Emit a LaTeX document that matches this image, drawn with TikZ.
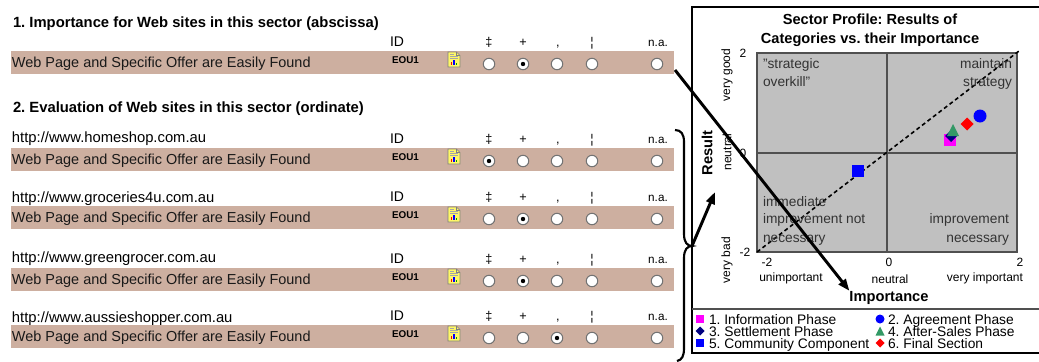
\documentclass[tikz,border=0pt]{standalone}
\usepackage{fontspec}
\setmainfont{Liberation Sans}
\usetikzlibrary{arrows.meta,shapes.geometric}
\definecolor{bandcol}{HTML}{CDAFA0}
\definecolor{plotgray}{HTML}{C0C0C0}
\definecolor{gridcol}{HTML}{505050}
\definecolor{navy}{HTML}{000080}
\definecolor{seagreen}{HTML}{339966}
\definecolor{pinkmag}{HTML}{FF00FF}
\definecolor{pureblue}{HTML}{0000FF}
\definecolor{purered}{HTML}{FF0000}
\newcommand\myfs[1]{\fontsize{#1}{#1}\selectfont}
\frenchspacing
\tikzset{
  pics/mksq/.style={code={\fill (-#1,-#1) rectangle (#1,#1);}},
  pics/mkci/.style={code={\fill (0,0) circle (#1);}},
  pics/mkdi/.style={code={\fill (0,-#1) -- (#1,0) -- (0,#1) -- (-#1,0) -- cycle;}},
  pics/mktr/.style={code={\fill ({-#1},{#1}) -- ({#1},{#1}) -- (0,{-#1}) -- cycle;}},
  pics/docicon/.style={code={
    \filldraw[fill=yellow!60!white, draw=black!50, line width=0.45pt] (-6,-7.5) -- (2.5,-7.5) -- (6,-4) -- (6,7.5) -- (-6,7.5) -- cycle;
    \draw[black!50, line width=0.45pt] (2.5,-7.5) -- (2.5,-4) -- (6,-4);
    \draw[black!35, line width=0.35pt] (-4,-5) -- (0,-5) (-4,-3) -- (4,-3) (-4,-1) -- (4,-1);
    \fill[red] (-3.5,5.5) rectangle (-2,2);
    \fill[blue] (-1,5.5) rectangle (0.5,0.5);
    \fill[green!60!black] (1.5,5.5) rectangle (3,3);
  }}
}
\begin{document}
\begin{tikzpicture}[x=0.75pt,y=-0.75pt,
  txt/.style={inner sep=0pt, outer sep=0pt},
  heading/.style={txt, anchor=base west, font=\bfseries\myfs{11.1}},
  url/.style={txt, anchor=base west, font=\myfs{11.1}},
  band/.style={fill=bandcol, draw=none, inner sep=0pt, outer sep=0pt, anchor=north west, minimum width=497pt, minimum height=17.6pt},
  rowtxt/.style={txt, anchor=base west, font=\myfs{10.85}, text=black!90},
  idtxt/.style={txt, anchor=base, font=\myfs{10.5}},
  symtxt/.style={txt, anchor=base, font=\myfs{9.5}},
  natxt/.style={txt, anchor=base, font=\myfs{8.8}},
  codetxt/.style={txt, anchor=base west, font=\bfseries\myfs{7.4}},
  radio/.style={circle, fill=white, draw=black!55, line width=0.8pt, minimum size=8.6pt, inner sep=0pt},
  ttl/.style={txt, anchor=base, font=\bfseries\myfs{10.95}},
  qtxt/.style={txt, anchor=base west, font=\myfs{10.3}, text=black!80},
  qtxtr/.style={txt, anchor=base east, font=\myfs{10.3}, text=black!80},
  tick/.style={txt, anchor=base, font=\myfs{9}},
  axlab/.style={txt, anchor=base, font=\myfs{9}},
  axlabr/.style={txt, rotate=90, font=\myfs{9}},
  axtitle/.style={txt, font=\bfseries\myfs{11}},
  legtxt/.style={txt, anchor=base west, font=\myfs{10.35}},
  bigarrow/.style={line width=2.2pt, -{Triangle[length=9pt,width=6.5pt]}},
]
\path[use as bounding box] (0,0) rectangle (1039,361);

% ---------- left: form ----------
\node[heading] (h1) at (13,27) {1. Importance for Web sites in this sector (abscissa)};
\node[heading] (h2) at (13,112) {2. Evaluation of Web sites in this sector (ordinate)};

\node[url] (u1) at (12,142) {http://www.homeshop.com.au};
\node[url] (u2) at (12,202) {http://www.groceries4u.com.au};
\node[url] (u3) at (12,262) {http://www.greengrocer.com.au};
\node[url] (u4) at (12,322) {http://www.aussieshopper.com.au};

\foreach \r/\top/\sel in {0/51/2,1/148/1,2/206/2,3/268/2,4/325/3} {
  \node[band] (band\r) at (11,\top) {};
  \node[rowtxt] (item\r) at (12,\top+16.5) {Web Page and Specific Offer are Easily Found};
  \node[idtxt] (id\r) at (397,\top-4.5) {ID};
  \node[symtxt] (s1\r) at (489,\top-4.5) {‡};
  \node[symtxt] (s2\r) at (523,\top-4.5) {+};
  \node[symtxt] (s3\r) at (558,\top-4.5) {,};
  \node[symtxt] (s4\r) at (592,\top-4.5) {¦};
  \node[natxt] (na\r) at (658,\top-4.5) {n.a.};
  \node[codetxt] (code\r) at (392,\top+12) {EOU1};
  \pic at (454,\top+8.5) {docicon};
  \foreach \c/\xx in {1/489,2/523,3/557,4/592,5/657} {
    \node[radio] (rad\r\c) at (\xx,\top+13) {};
  }
  \fill (rad\r\sel) circle (2.2);
}

% brace
\coordinate (bracetip) at (692,246);
\draw[line width=1.6pt] (675,130) .. controls (681,130) and (684,134) .. (684,142) -- (684,234)
  .. controls (684,242) and (687,246) .. (bracetip)
  .. controls (687,246) and (684,250) .. (684,258) -- (684,348)
  .. controls (684,356) and (682,360) .. (677,361);

% ---------- right: chart ----------
\draw[line width=1.2pt] (692,7) rectangle (1045,353);
\draw[gridcol, line width=0.8pt] (692,309) -- (1045,309);

\node[ttl] (t1) at (870,24) {Sector Profile: Results of};
\node[ttl] (t2) at (870,43) {Categories vs. their Importance};

\fill[plotgray] (757,53) rectangle (1017,252);
\draw[gridcol, line width=1pt] (757,153) -- (1017,153) (887,53) -- (887,252);
\draw[gridcol, line width=1pt] (757,53) rectangle (1017,252);
\draw[black, line width=1.2pt, dash pattern=on 3pt off 2.2pt] (757,252) -- (1019,51);

\node[qtxt] (q1a) at (763,68) {"strategic};
\node[qtxt] (q1b) at (763,86) {overkill"};
\node[qtxtr] (q2a) at (1012,68) {maintain};
\node[qtxtr] (q2b) at (1012,86) {strategy};
\node[qtxt] (q3a) at (763,206) {immediate};
\node[qtxt] (q3b) at (763,223) {improvement not};
\node[qtxt] (q3c) at (763,242) {necessary};
\node[qtxtr] (q4a) at (1009,223) {improvement};
\node[qtxtr] (q4b) at (1009,242) {necessary};

% markers
\pic[pinkmag] at (950,140) {mksq=6};
\pic[navy] at (951,136) {mkdi=6};
\pic[seagreen] at (953,130) {mktr=6};
\pic[purered] at (967,124) {mkdi=6.5};
\pic[pureblue] at (980,116) {mkci=6.5};
\pic[pureblue] at (858,171) {mksq=6};

% ticks and axis labels
\node[tick] (yt2) at (743,57) {2};
\node[tick] (yt0) at (743,157.5) {0};
\node[tick] (ytm) at (745,256.5) {-2};
\node[tick] (xtm) at (767,266.5) {-2};
\node[tick] (xt0) at (889,266.5) {0};
\node[tick] (xt2) at (1020,266.5) {2};
\node[axlab] (lu) at (791,281.5) {unimportant};
\node[axlab] (ln) at (890,283.5) {neutral};
\node[axlab] (lv) at (985,281.5) {very important};
\node[axtitle, anchor=base] (implabel) at (889,301) {Importance};
\node[axlabr] (lg) at (727,75) {very good};
\node[axlabr] (lne) at (727,152) {neutral};
\node[axlabr] (lb) at (727,260) {very bad};
\node[axtitle, rotate=90] (reslabel) at (707,153) {Result};

% legend
\pic[pinkmag] at (700,319) {mksq=4};
\node[legtxt] (l1) at (709,324) {1. Information Phase};
\pic[pureblue] at (880,319) {mkci=4.5};
\node[legtxt] (l2) at (888,324) {2. Agreement Phase};
\pic[navy] at (700,331) {mkdi=4.5};
\node[legtxt] (l3) at (709,336) {3. Settlement Phase};
\pic[seagreen] at (880,331) {mktr=4.5};
\node[legtxt] (l4) at (888,336) {4. After-Sales Phase};
\pic[pureblue] at (700,343) {mksq=4};
\node[legtxt] (l5) at (709,348) {5. Community Component};
\pic[purered] at (880,343) {mkdi=4.5};
\node[legtxt] (l6) at (888,348) {6. Final Section};

% arrows
\coordinate (a1s) at (675,70);
\coordinate (resend) at (715,192);
\draw[bigarrow] (a1s) -- (implabel.north west);
\draw[bigarrow] (bracetip) -- (resend);
\end{tikzpicture}
\end{document}
